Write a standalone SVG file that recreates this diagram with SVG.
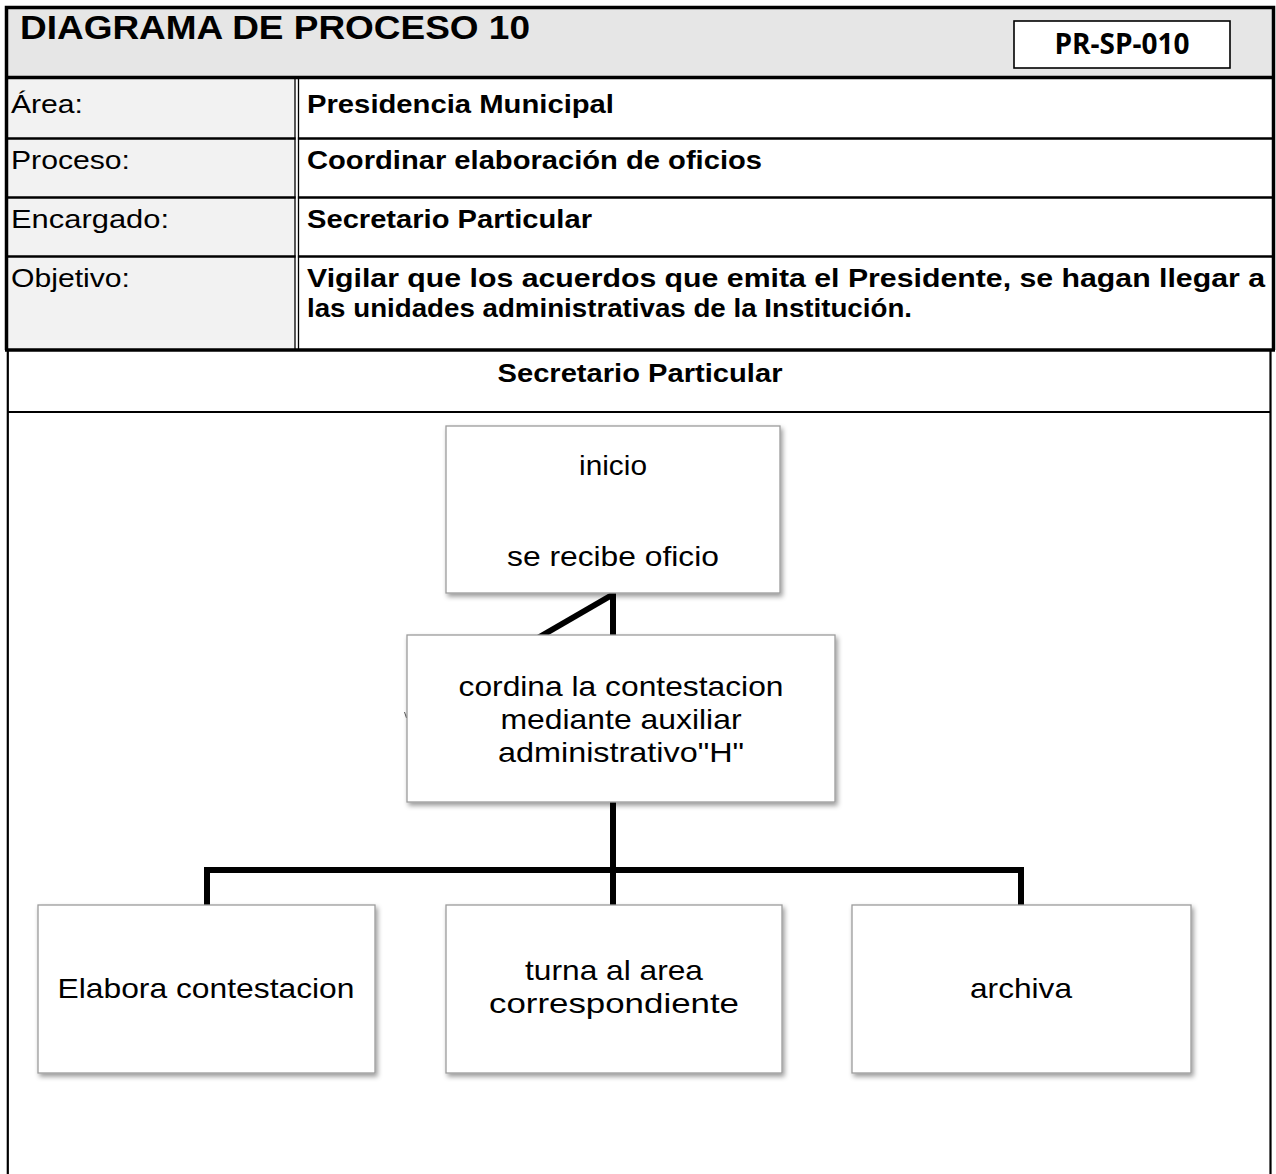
<svg xmlns="http://www.w3.org/2000/svg" width="1276" height="1174" viewBox="0 0 1276 1174">
  <defs>
    <filter id="shadow" x="-10%" y="-10%" width="125%" height="130%">
      <feDropShadow dx="2" dy="3" stdDeviation="2.5" flood-color="#000" flood-opacity="0.4"/>
    </filter>
  </defs>
  <style>
    .txt { font-family: "Liberation Sans", Arial, Helvetica, sans-serif; fill: #000; }
    .hd { font-size: 26px; }
    .b { font-weight: bold; }
    .title { font-size: 33px; font-weight: bold; }
    .code { font-family: "Open Sans", "Liberation Sans", sans-serif; font-size: 28px; font-weight: bold; fill: #000; text-anchor: middle; }
    .thick { stroke: #000; stroke-width: 3.5; fill: none; }
    .rule { stroke: #000; stroke-width: 2.5; fill: none; }
    .thin { stroke: #000; stroke-width: 2.2; fill: none; }
    .dbl { stroke: #000; stroke-width: 1.3; fill: none; }
    .box { fill: #fff; stroke: #9c9c9c; stroke-width: 1.3; filter: url(#shadow); }
    .nt { font-size: 28px; text-anchor: middle; }
    .conn { stroke: #000; stroke-width: 6; fill: none; stroke-linejoin: miter; }
  </style>

  <!-- page background -->
  <rect x="0" y="0" width="1276" height="1174" fill="#fff"/>

  <!-- header table -->
  <g id="header">
    <rect x="6.5" y="7.5" width="1266.5" height="70" fill="#e6e6e6"/>
    <rect x="6.5" y="77.5" width="288.5" height="272.5" fill="#f2f2f2"/>
    <rect x="1014" y="21" width="216" height="47" fill="#fff" stroke="#000" stroke-width="1.6"/>
    <text class="code" x="1122" y="53.5">PR-SP-010</text>
    <text class="txt title" x="20" y="39" textLength="510" lengthAdjust="spacingAndGlyphs">DIAGRAMA DE PROCESO 10</text>

    <!-- row rules -->
    <line class="rule" x1="6.5" y1="138.5" x2="1273" y2="138.5"/>
    <line class="rule" x1="6.5" y1="197.5" x2="1273" y2="197.5"/>
    <line class="rule" x1="6.5" y1="256.5" x2="1273" y2="256.5"/>
    <!-- double column rule -->
    <rect x="295.6" y="79" width="2.3" height="270" fill="#fff"/>
    <line class="dbl" x1="295" y1="78" x2="295" y2="350"/>
    <line class="dbl" x1="298.5" y1="78" x2="298.5" y2="350"/>
    <!-- frame -->
    <path class="thick" d="M6.5,350 V7.5 H1273.5 V350"/>
    <line class="thick" x1="5" y1="77.5" x2="1275" y2="77.5"/>
    <line class="thick" x1="5" y1="350" x2="1275" y2="350"/>

    <text class="txt hd" x="11" y="113" textLength="72" lengthAdjust="spacingAndGlyphs">Área:</text>
    <text class="txt hd" x="11" y="169" textLength="119" lengthAdjust="spacingAndGlyphs">Proceso:</text>
    <text class="txt hd" x="11" y="228" textLength="158" lengthAdjust="spacingAndGlyphs">Encargado:</text>
    <text class="txt hd" x="11" y="287" textLength="119" lengthAdjust="spacingAndGlyphs">Objetivo:</text>

    <text class="txt hd b" x="307" y="113" textLength="307" lengthAdjust="spacingAndGlyphs">Presidencia Municipal</text>
    <text class="txt hd b" x="307" y="169" textLength="455" lengthAdjust="spacingAndGlyphs">Coordinar elaboración de oficios</text>
    <text class="txt hd b" x="307" y="228" textLength="285" lengthAdjust="spacingAndGlyphs">Secretario Particular</text>
    <text class="txt hd b" x="307" y="287" textLength="958" lengthAdjust="spacingAndGlyphs">Vigilar que los acuerdos que emita el Presidente, se hagan llegar a</text>
    <text class="txt hd b" x="307" y="317" textLength="605" lengthAdjust="spacingAndGlyphs">las unidades administrativas de la Institución.</text>
  </g>

  <!-- swimlane -->
  <g id="lane">
    <line class="thin" x1="7.8" y1="351" x2="7.8" y2="1174"/>
    <line class="thin" x1="1270.5" y1="351" x2="1270.5" y2="1174"/>
    <line class="thin" x1="7" y1="412" x2="1271" y2="412"/>
    <text class="txt hd b" x="640" y="382" text-anchor="middle" textLength="285" lengthAdjust="spacingAndGlyphs">Secretario Particular</text>
  </g>

  <!-- connectors -->
  <g id="connectors">
    <line class="conn" x1="613" y1="592" x2="613" y2="637"/>
    <line class="conn" x1="612" y1="595" x2="536" y2="639"/>
    <line class="conn" x1="613" y1="800" x2="613" y2="906"/>
    <path class="conn" d="M207,907 V870 H1021 V907"/>
    <path d="M404.5,712 L406.5,718 L408,712" stroke="#555" stroke-width="1" fill="none"/>
  </g>

  <!-- nodes -->
  <g id="node-inicio">
    <rect class="box" x="446" y="426" width="334" height="167"/>
    <text class="txt nt" x="613" y="475" textLength="68" lengthAdjust="spacingAndGlyphs">inicio</text>
    <text class="txt nt" x="613" y="566" textLength="212" lengthAdjust="spacingAndGlyphs">se recibe oficio</text>
  </g>
  <g id="node-coordina">
    <rect class="box" x="407" y="635" width="428" height="167"/>
    <text class="txt nt" x="621" y="696" textLength="325" lengthAdjust="spacingAndGlyphs">cordina la contestacion</text>
    <text class="txt nt" x="621" y="729" textLength="241" lengthAdjust="spacingAndGlyphs">mediante auxiliar</text>
    <text class="txt nt" x="621" y="762" textLength="246" lengthAdjust="spacingAndGlyphs">administrativo"H"</text>
  </g>
  <g id="node-elabora">
    <rect class="box" x="38" y="905" width="337" height="168"/>
    <text class="txt nt" x="206" y="998" textLength="297" lengthAdjust="spacingAndGlyphs">Elabora contestacion</text>
  </g>
  <g id="node-turna">
    <rect class="box" x="446" y="905" width="336" height="168"/>
    <text class="txt nt" x="614" y="980" textLength="178" lengthAdjust="spacingAndGlyphs">turna al area</text>
    <text class="txt nt" x="614" y="1013" textLength="250" lengthAdjust="spacingAndGlyphs">correspondiente</text>
  </g>
  <g id="node-archiva">
    <rect class="box" x="852" y="905" width="339" height="168"/>
    <text class="txt nt" x="1021" y="998" textLength="102" lengthAdjust="spacingAndGlyphs">archiva</text>
  </g>
</svg>
